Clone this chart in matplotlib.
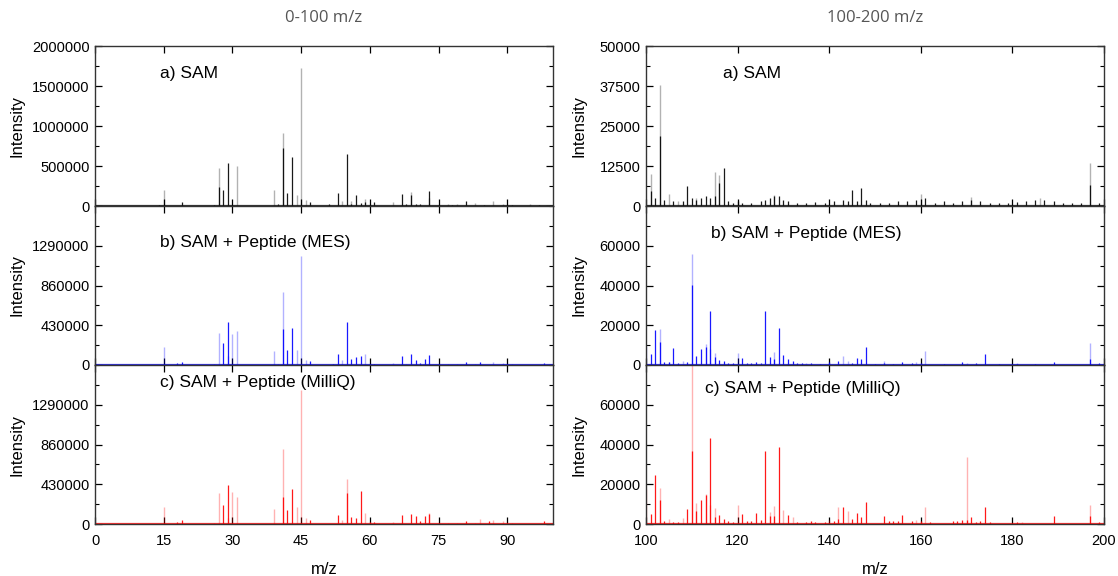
import matplotlib
matplotlib.use("Agg")
import matplotlib.pyplot as plt
from matplotlib.ticker import MultipleLocator, FixedLocator, FormatStrFormatter

plt.rcParams['font.family'] = ['Liberation Sans', 'DejaVu Sans']

# ---------------- data: 0-100 m/z ----------------
# a) SAM
low_a_dark_mz = [14, 19, 26, 27, 28, 29, 40, 41, 42, 43, 47, 51, 53, 55, 56, 57, 58, 59, 61, 67, 68, 69, 70, 71, 73, 78, 81, 85, 91, 97]
low_a_dark_int = [10000, 44000, 15000, 237000, 196000, 537000, 20000, 729000, 162000, 608000, 50000, 30000, 162000, 646000, 20000, 137000, 37000, 50000, 46000, 154000, 20000, 133000, 20000, 30000, 187000, 15000, 58000, 15000, 15000, 15000]
low_a_light_mz = [15, 27, 31, 39, 41, 44, 45, 46, 54, 56, 59, 65, 69, 73, 77, 79, 83, 87, 89, 95]
low_a_light_int = [196000, 475000, 496000, 196000, 912000, 137000, 1730000, 71000, 58000, 62000, 87000, 46000, 171000, 100000, 30000, 20000, 40000, 58000, 25000, 20000]
# b) SAM + Peptide (MES)
low_b_dark_mz = [18, 19, 28, 29, 41, 42, 43, 47, 52, 53, 55, 56, 57, 58, 61, 67, 69, 70, 71, 72, 73, 81, 84, 98]
low_b_dark_int = [25000, 36000, 240000, 466000, 394000, 165000, 405000, 47000, 10000, 115000, 466000, 68000, 82000, 93000, 10000, 100000, 122000, 57000, 25000, 65000, 111000, 32000, 36000, 21000]
low_b_light_mz = [15, 26, 27, 29, 30, 31, 39, 40, 41, 44, 45, 46, 54, 59, 60, 65, 68, 77, 79, 83, 87, 89, 91]
low_b_light_int = [197000, 15000, 348000, 93000, 340000, 369000, 154000, 15000, 792000, 158000, 1175000, 57000, 50000, 122000, 12000, 20000, 15000, 15000, 12000, 15000, 32000, 20000, 10000]
# c) SAM + Peptide (MilliQ)
low_c_dark_mz = [18, 19, 28, 29, 41, 42, 43, 47, 53, 55, 56, 57, 58, 60, 61, 67, 69, 70, 71, 72, 73, 81, 86, 98]
low_c_dark_int = [20000, 43000, 210000, 426000, 291000, 156000, 377000, 46000, 100000, 334000, 75000, 68000, 359000, 20000, 20000, 96000, 103000, 89000, 28000, 85000, 103000, 28000, 30000, 36000]
low_c_light_mz = [15, 26, 27, 29, 30, 31, 39, 41, 44, 45, 46, 54, 55, 59, 65, 73, 77, 79, 83, 84, 87, 89, 91]
low_c_light_int = [185000, 15000, 330000, 60000, 341000, 295000, 163000, 814000, 185000, 1446000, 68000, 46000, 483000, 117000, 25000, 121000, 15000, 12000, 15000, 50000, 43000, 30000, 12000]

# ---------------- data: 100-200 m/z ----------------
high_a_dark_mz = [101, 102, 103, 104, 106, 108, 109, 110, 111, 112, 113, 114, 115, 116, 117, 118, 119, 120, 121, 123, 125, 126, 127, 128, 129, 130, 131, 133, 135, 137, 139, 141, 143, 144, 145, 146, 147, 148, 149, 151, 153, 155, 157, 159, 161, 163, 165, 167, 169, 171, 173, 175, 177, 179, 181, 183, 185, 187, 189, 191, 193, 195, 197, 199]
high_a_dark_int = [4800, 2500, 22000, 2000, 1500, 1500, 6250, 2500, 2000, 2500, 3000, 2500, 3000, 7300, 12000, 1500, 1000, 1500, 1000, 1000, 1500, 2000, 2500, 3000, 3000, 2000, 1500, 1000, 1000, 1200, 1000, 1500, 2000, 1500, 5000, 1500, 5500, 2000, 1000, 1000, 1000, 1500, 1500, 2000, 2500, 1000, 1500, 1000, 1500, 2000, 1500, 1000, 1000, 1000, 1200, 1500, 2000, 2000, 1500, 1000, 1000, 1000, 6600, 1000]
high_a_light_mz = [101, 103, 105, 107, 111, 115, 116, 128, 160, 171, 186, 197]
high_a_light_int = [10000, 37800, 3750, 1500, 2500, 10500, 9800, 3500, 3750, 2900, 2500, 13300]

high_b_dark_mz = [101, 102, 103, 104, 105, 106, 107, 109, 110, 111, 112, 113, 114, 115, 116, 117, 118, 119, 121, 122, 123, 124, 125, 126, 127, 128, 129, 130, 131, 132, 133, 134, 136, 138, 140, 142, 145, 146, 147, 148, 150, 152, 154, 156, 158, 160, 165, 169, 172, 174, 177, 181, 185, 189, 197, 199]
high_b_dark_int = [5500, 17700, 11700, 1500, 1500, 8800, 1200, 1500, 40500, 4500, 8300, 9300, 27200, 3800, 2700, 2000, 1000, 800, 3700, 1000, 1000, 1500, 1200, 27300, 4200, 3000, 18500, 5000, 2800, 2000, 800, 800, 800, 600, 1300, 2200, 1200, 3500, 2800, 9300, 600, 1000, 600, 1300, 800, 1000, 600, 1300, 800, 5300, 600, 600, 600, 1300, 3000, 1000]
high_b_light_mz = [100, 103, 105, 108, 110, 113, 114, 115, 120, 128, 135, 143, 144, 152, 159, 161, 170, 181, 197]
high_b_light_int = [9700, 18200, 1500, 2200, 55800, 10500, 8200, 6200, 6200, 6300, 1200, 4300, 2000, 2200, 1500, 7200, 1200, 800, 11300]

high_c_dark_mz = [101, 102, 103, 104, 106, 107, 109, 110, 111, 112, 113, 114, 115, 116, 117, 118, 119, 121, 122, 123, 124, 125, 126, 127, 128, 129, 131, 133, 135, 136, 137, 139, 141, 142, 143, 145, 146, 147, 148, 152, 153, 154, 155, 156, 158, 160, 162, 167, 168, 169, 170, 171, 172, 173, 174, 175, 181, 189, 197, 199]
high_c_dark_int = [5000, 24800, 11900, 1650, 1000, 1000, 7300, 36600, 6400, 12200, 14400, 43300, 3600, 4500, 2500, 1500, 1200, 5100, 1500, 1500, 5600, 2000, 36500, 4000, 4000, 38700, 4300, 1200, 1000, 1500, 1000, 1000, 1500, 2500, 8600, 2600, 5300, 3600, 10900, 4100, 1500, 1500, 1500, 4500, 1500, 1500, 800, 1500, 1500, 2000, 2000, 3600, 1000, 1500, 8600, 1000, 1000, 4100, 4100, 1000]
high_c_light_mz = [100, 103, 105, 108, 110, 111, 113, 114, 115, 120, 127, 128, 130, 132, 140, 142, 144, 159, 161, 170, 182, 197]
high_c_light_int = [17700, 18000, 2500, 2800, 82000, 10700, 14900, 9600, 7800, 9600, 5900, 8900, 6900, 3500, 2000, 8600, 6600, 2000, 8600, 33800, 800, 9700]

panel_labels = ["a) SAM", "b) SAM + Peptide (MES)", "c) SAM + Peptide (MilliQ)"]
col_titles = ["0-100 m/z", "100-200 m/z"]
colors = ["#000000", "#0000ff", "#ff0000"]

low_series = [(low_a_dark_mz, low_a_dark_int, low_a_light_mz, low_a_light_int),
              (low_b_dark_mz, low_b_dark_int, low_b_light_mz, low_b_light_int),
              (low_c_dark_mz, low_c_dark_int, low_c_light_mz, low_c_light_int)]
high_series = [(high_a_dark_mz, high_a_dark_int, high_a_light_mz, high_a_light_int),
               (high_b_dark_mz, high_b_dark_int, high_b_light_mz, high_b_light_int),
               (high_c_dark_mz, high_c_dark_int, high_c_light_mz, high_c_light_int)]

fig = plt.figure(figsize=(11.18, 5.76), dpi=100)
W, H = 1118.0, 576.0
col_x = [(95, 553), (646, 1104)]
row_y = [(46, 206), (206, 365), (365, 524)]

low_ylim = [2000000, 1720000, 1720000]
high_ylim = [50000, 80000, 80000]
low_yticks = [[0, 500000, 1000000, 1500000, 2000000], [0, 430000, 860000, 1290000], [0, 430000, 860000, 1290000]]
high_yticks = [[0, 12500, 25000, 37500, 50000], [0, 20000, 40000, 60000], [0, 20000, 40000, 60000]]
low_minor = [250000, 215000, 215000]
high_minor = [6250, 10000, 10000]
label_pos_low = [(0.142, 0.83), (0.142, 0.77), (0.142, 0.89)]
label_pos_high = [(0.168, 0.83), (0.142, 0.83), (0.129, 0.855)]
ylabel_x = [(25 - 95) / 458.0, (586 - 646) / 458.0]

for ci in range(2):
    x0, x1 = col_x[ci]
    series = low_series if ci == 0 else high_series
    for ri in range(3):
        y0, y1 = row_y[ri]
        ax = fig.add_axes([x0 / W, 1 - y1 / H, (x1 - x0) / W, (y1 - y0) / H])
        dmz, dint, lmz, lint = series[ri]
        col = colors[ri]
        ax.vlines(lmz, 0, lint, color=col, alpha=0.3, lw=1.0)
        ax.vlines(dmz, 0, dint, color=col, alpha=0.9, lw=0.9)
        ax.axhline(0, color=col, lw=1.6, alpha=0.8)
        if ci == 0:
            ax.set_xlim(0, 100)
            ax.set_xticks([0, 15, 30, 45, 60, 75, 90])
            ax.set_ylim(0, low_ylim[ri])
            ax.yaxis.set_major_locator(FixedLocator(low_yticks[ri]))
            ax.yaxis.set_minor_locator(MultipleLocator(low_minor[ri]))
            lx, ly = label_pos_low[ri]
        else:
            ax.set_xlim(100, 200)
            ax.set_xticks([100, 120, 140, 160, 180, 200])
            ax.set_ylim(0, high_ylim[ri])
            ax.yaxis.set_major_locator(FixedLocator(high_yticks[ri]))
            ax.yaxis.set_minor_locator(MultipleLocator(high_minor[ri]))
            lx, ly = label_pos_high[ri]
        ax.yaxis.set_major_formatter(FormatStrFormatter('%d'))
        ax.xaxis.set_major_formatter(FormatStrFormatter('%d'))
        ax.text(lx, ly, panel_labels[ri], transform=ax.transAxes, fontsize=12.5,
                ha='left', va='center')
        ax.tick_params(which='both', direction='in', top=True, right=True, labelsize=10.5)
        ax.tick_params(which='major', length=5, width=0.9)
        ax.tick_params(which='minor', length=3, width=0.8)
        ax.tick_params(axis='x', which='minor', bottom=False, top=False)
        ax.tick_params(axis='x', which='major', pad=7)
        ax.tick_params(axis='y', which='major', pad=4)
        for s in ax.spines.values():
            s.set_color('#333333')
            s.set_linewidth(1.0)
        ax.set_ylabel("Intensity", fontsize=12)
        ax.yaxis.set_label_coords(ylabel_x[ci], 0.5)
        if ri < 2:
            ax.tick_params(axis='x', labelbottom=False)
        else:
            ax.set_xlabel("m/z", fontsize=12, labelpad=10)
    fig.text(((x0 + x1) / 2) / W, 1 - 18 / H, col_titles[ci], ha='center', va='center',
             fontsize=12, color='#555555', family=['Open Sans', 'DejaVu Sans'])

fig.savefig("out.png", dpi=100)
